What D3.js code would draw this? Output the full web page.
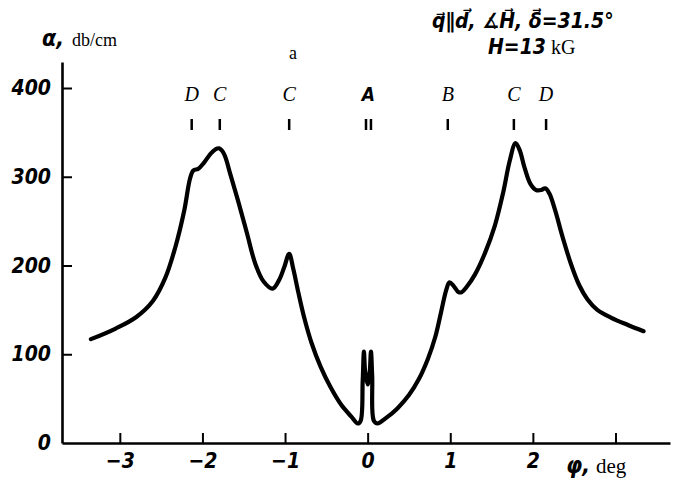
<!DOCTYPE html>
<html>
<head>
<meta charset="utf-8">
<script src="https://cdn.jsdelivr.net/npm/d3@7"></script>
<style>
  body { margin: 0; background: #fff; }
  .tick text { font-family: "DejaVu Sans Condensed", "DejaVu Sans", sans-serif; font-weight: bold; font-style: italic; font-size: 21px; fill: #000; }
  .serif { font-family: "Liberation Serif", "DejaVu Serif", serif; }
  .bi { font-family: "DejaVu Sans Condensed", "DejaVu Sans", sans-serif; font-weight: bold; font-style: italic; }
</style>
</head>
<body>
<svg id="chart" width="673" height="479"></svg>
<script>
// attenuation curve
let phi = [-3.35, -3.05, -2.80, -2.60, -2.45, -2.33, -2.22, -2.15, -2.11, -2.05, -1.98, -1.90, -1.84, -1.80,
  -1.74, -1.66, -1.56, -1.46, -1.36, -1.26, -1.15, -1.07, -1.01, -0.95, -0.90, -0.84, -0.77, -0.68,
  -0.57, -0.45, -0.32, -0.20, -0.12, -0.085, -0.06, -0.045, -0.03, 0.0, 0.025, 0.04, 0.055, 0.075, 0.12,
  0.22, 0.36, 0.50, 0.62, 0.73, 0.82, 0.89, 0.95, 0.99, 1.04, 1.10, 1.14, 1.20, 1.30, 1.42,
  1.54, 1.64, 1.72, 1.79, 1.84, 1.90, 1.97, 2.04, 2.10, 2.15, 2.20, 2.27, 2.36, 2.46, 2.56, 2.66,
  2.78, 2.95, 3.15, 3.34];
let alpha = [117, 129, 142, 160, 186, 220, 262, 298, 307, 309, 316, 326, 331, 332,
  326, 302, 270, 236, 202, 182, 174, 184, 198, 213, 196, 170, 142, 113,
  86, 63, 43, 30, 22, 25, 70, 103, 80, 66, 80, 103, 75, 25, 22,
  28, 39, 54, 72, 95, 120, 148, 172, 181, 177, 170, 170, 176, 190, 214,
  245, 282, 318, 338, 330, 310, 292, 285, 285, 287, 281, 262, 232, 202, 178, 162,
  150, 141, 133, 126];

// resonance markers
let markerNames = ["D", "C", "C", "A", "B", "C", "D"];
let markerPhi = [-2.13, -1.79, -0.95, 0.01, 0.97, 1.77, 2.16];
let markerLines = [[-2.13], [-1.79], [-0.95], [-0.02, 0.04], [0.97], [1.77], [2.16]];

let xTicks = [-3, -2, -1, 0, 1, 2, 3];
let xTickLabels = ["\u22123", "\u22122", "\u22121", "0", "1", "2", ""];
let yTicks = [0, 100, 200, 300, 400];

let svg = d3.select("#chart");

let x = d3.scaleLinear().domain([-3.7, 3.66]).range([62, 670]);
let y = d3.scaleLinear().domain([0, 429.3]).range([443, 62]);

let yAxis = d3.axisLeft(y)
    .tickValues(yTicks)
    .tickSizeInner(-10)
    .tickSizeOuter(0)
    .tickPadding(11);

let xAxis = d3.axisBottom(x)
    .tickValues(xTicks)
    .tickFormat(function(d, i){ return xTickLabels[i]; })
    .tickSizeInner(-10)
    .tickSizeOuter(0)
    .tickPadding(9);

let gy = svg.append("g")
    .attr("transform", "translate(62,0)")
    .call(yAxis);

let gx = svg.append("g")
    .attr("transform", "translate(0,443)")
    .call(xAxis);

// plain black axes, a bit heavy like the print
svg.selectAll(".domain").attr("stroke", "#000").attr("stroke-width", 2.6);
svg.selectAll(".tick line").attr("stroke", "#000").attr("stroke-width", 2);
gy.selectAll(".tick").filter(function(d){ return d == 0; }).select("line").remove();
gx.selectAll(".tick text").attr("dy", "0.78em");

// the curve
let pts = phi.map(function(p, i){ return [p, alpha[i]]; });
let line = d3.line()
    .x(function(d){ return x(d[0]); })
    .y(function(d){ return y(d[1]); })
    .curve(d3.curveCatmullRom.alpha(0.5));

svg.append("path")
    .datum(pts)
    .attr("d", line)
    .attr("fill", "none")
    .attr("stroke", "#000")
    .attr("stroke-width", 4.2)
    .attr("stroke-linejoin", "round")
    .attr("stroke-linecap", "round");

// marker letters and little bars
let mk = svg.append("g");
markerNames.forEach(function(name, i){
  mk.append("text")
    .attr("x", x(markerPhi[i]))
    .attr("y", 101)
    .attr("text-anchor", "middle")
    .attr("class", name == "A" ? "bi" : "serif")
    .style("font-style", "italic")
    .style("font-size", name == "A" ? "19px" : "20px")
    .text(name);
  markerLines[i].forEach(function(p){
    mk.append("line")
      .attr("x1", x(p)).attr("x2", x(p))
      .attr("y1", 119).attr("y2", 130)
      .attr("stroke", "#000")
      .attr("stroke-width", 2.5);
  });
});

// panel letter
svg.append("text")
    .attr("x", 293).attr("y", 59)
    .attr("text-anchor", "middle")
    .attr("class", "serif")
    .style("font-size", "18px")
    .text("a");

// y axis title
let yt = svg.append("text").attr("x", 42).attr("y", 46);
yt.append("tspan").attr("class", "bi").style("font-size", "23px").text("\u03b1,");
yt.append("tspan").attr("class", "serif").attr("dx", 8).style("font-size", "18px").text("db/cm");

// x axis title
let xt = svg.append("text").attr("x", 566).attr("y", 473);
xt.append("tspan").attr("class", "bi").style("font-size", "23px").text("\u03c6,");
xt.append("tspan").attr("class", "serif").attr("dx", 6).style("font-size", "21px").text("deg");

// conditions, top right
let c1 = svg.append("text").attr("x", 432).attr("y", 28).attr("class", "bi").style("font-size", "21px");
c1.append("tspan").text("q\u20d7\u2225d\u20d7, \u2221H\u20d7, \u03b4\u20d7=31.5\u00b0");

let c2 = svg.append("text").attr("x", 488).attr("y", 54);
c2.append("tspan").attr("class", "bi").style("font-size", "21px").text("H=13");
c2.append("tspan").attr("class", "serif").attr("dx", 5).style("font-size", "20px").text("kG");
</script>
</body>
</html>
